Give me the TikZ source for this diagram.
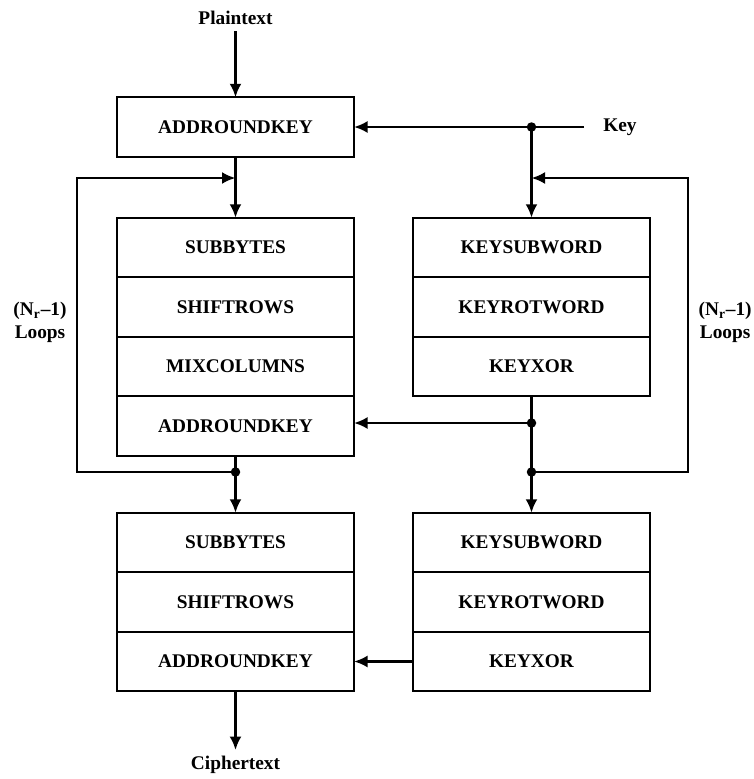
\documentclass[tikz,border=0pt]{standalone}
\usepackage{fontspec}
\setmainfont{Liberation Serif}
\usetikzlibrary{positioning,arrows.meta}

\tikzset{
  box/.style={draw, line width=1.3pt, outer sep=0pt, inner sep=0pt,
    minimum width=4.74cm, minimum height=1.19cm,
    font=\fontsize{11}{13}\selectfont\bfseries},
  arr/.style={line width=1.4pt, -{Latex[length=2.7mm,width=2.4mm]}},
  wire/.style={line width=1.4pt},
  lbl/.style={font=\fontsize{11}{13}\selectfont\bfseries, align=center},
  dot/.style={circle, fill, inner sep=0pt, minimum size=1.9mm}
}

\begin{document}
\begin{tikzpicture}
    \useasboundingbox (0,0) rectangle (15.06,-15.58);

    % initial round
    \node[lbl] (plain) at (4.71,-0.36) {Plaintext};
    \node[box] (ark0) at (4.71,-2.54) {ADDROUNDKEY};
    \node[lbl] (key) at (12.4,-2.54) {Key};

    % main rounds
    \node[box] (sb1) at (4.71,-4.95) {SUBBYTES};
    \node[box, below=0pt of sb1] (sr1) {SHIFTROWS};
    \node[box, below=0pt of sr1] (mc1) {MIXCOLUMNS};
    \node[box, below=0pt of mc1] (ark1) {ADDROUNDKEY};

    \node[box] (ksw1) at (10.63,-4.95) {KEYSUBWORD};
    \node[box, below=0pt of ksw1] (krw1) {KEYROTWORD};
    \node[box, below=0pt of krw1] (kx1) {KEYXOR};

    % final round
    \node[box] (sb2) at (4.71,-10.85) {SUBBYTES};
    \node[box, below=0pt of sb2] (sr2) {SHIFTROWS};
    \node[box, below=0pt of sr2] (ark2) {ADDROUNDKEY};

    \node[box] (ksw2) at (10.63,-10.85) {KEYSUBWORD};
    \node[box, below=0pt of ksw2] (krw2) {KEYROTWORD};
    \node[box, below=0pt of krw2] (kx2) {KEYXOR};

    \node[lbl] (cipher) at (4.71,-15.3) {Ciphertext};

    % loop labels
    \node[lbl] (lloops) at (0.8,-6.44) {(N\textsubscript{r}--1)\\Loops};
    \node[lbl, anchor=east, inner sep=0pt] (rloops) at (15.04,-6.44) {(N\textsubscript{r}--1)\\Loops};

    % junctions
    \coordinate (kin) at (11.68,-2.54);
    \coordinate (kdot) at (10.63,-2.54);
    \coordinate (lin) at (4.71,-3.56);
    \coordinate (rin) at (10.63,-3.56);
    \coordinate (ldot) at (4.71,-9.44);
    \coordinate (rdot) at (10.63,-9.44);
    \coordinate (xdot) at (10.63,-8.46);
    \coordinate (lside) at (1.54,-6.5);
    \coordinate (rside) at (13.76,-6.5);

    % data path
    \draw[arr] (plain) -- (ark0);
    \draw[arr] (ark0) -- (sb1);
    \draw[arr] (ark1) -- (sb2);
    \draw[arr] (ldot) -| (lside) |- (lin);
    \draw[arr] (ark2) -- (cipher);

    % key path
    \draw[arr] (kin) -- (ark0.east);
    \draw[arr] (kdot) -- (ksw1);
    \draw[arr] (kx1) -- (ksw2);
    \draw[arr] (rdot) -| (rside) |- (rin);
    \draw[arr] (xdot) -- (xdot -| ark1.east);
    \draw[arr] (kx2) -- (ark2);

    \foreach \p in {kdot, ldot, rdot, xdot}
        \node[dot] at (\p) {};
\end{tikzpicture}
\end{document}
